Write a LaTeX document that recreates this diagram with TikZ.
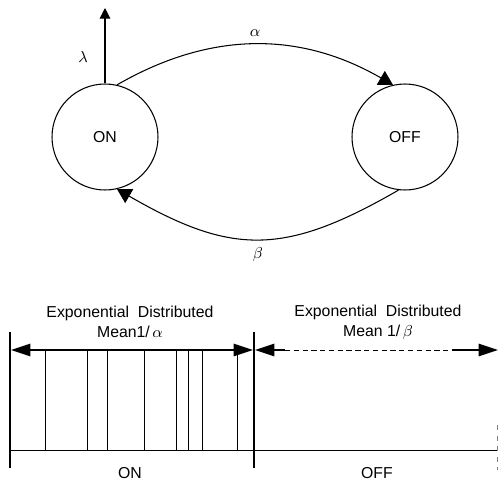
\documentclass[tikz,border=0pt]{standalone}
\usepackage{fontspec}
\setmainfont{Liberation Sans}
\usetikzlibrary{arrows.meta,positioning}
\begin{document}
\begin{tikzpicture}[x=0.02cm,y=-0.02cm,>={Triangle[length=8pt,width=9pt]},font=\fontsize{9}{11.4}\selectfont]
\tikzstyle{state}=[draw,circle,minimum size=2.12cm,inner sep=0pt,line width=0.6pt]
\tikzstyle{bar}=[line width=1.7pt]
\tikzstyle{span}=[line width=1pt,>={Triangle[length=11pt,width=7pt]}]
\tikzstyle{tick}=[line width=0.5pt]
\useasboundingbox (0,0) rectangle (498,484);
\node[state] (on) at (105,137) {ON};
\node[state] (off) at (405,137) {OFF};
\coordinate (lamtop) at (106,8);
\draw[-{Triangle[length=6pt,width=6pt]},line width=0.6pt] (on.north) -- (on.north |- lamtop);
\node (lam) at (83,57) {$\lambda$};
\draw[->,line width=0.6pt] (on.77) to[out=30,in=150] node[above=1pt] (alp) {$\alpha$} (off.103);
\draw[->,line width=0.6pt] (off.-97) to[out=-150,in=-30,looseness=1.2] node[below=1pt] (bet) {$\beta$} (on.-77);
\draw[bar] (10,332) -- (10,468);
\draw[bar] (254,332) -- (254,468);
\draw[tick] (10,450) -- (498,450);
\foreach \x in {45,87,107,144,176,188,202,237}
  \draw[tick] (\x,350) -- (\x,450);
\draw[<->,span] (11,350) -- (253,350);
\draw[<-,span] (255,350) -- (285,350);
\draw[tick,densely dashed] (285,350) -- (452,350);
\draw[->,span] (452,350) -- (498,350);
\draw[tick,dashed,gray] (497,425) -- (497,470);
\node[align=center] (onlab) at (130,322) {Exponential\ \ Distributed\\Mean1/\,$\alpha$};
\node[align=center] (offlab) at (378,322) {Exponential\ \ Distributed\\Mean 1/\,$\beta$};
\node (ontxt) at (130,473) {ON};
\node (offtxt) at (377,473) {OFF};
\end{tikzpicture}
\end{document}
